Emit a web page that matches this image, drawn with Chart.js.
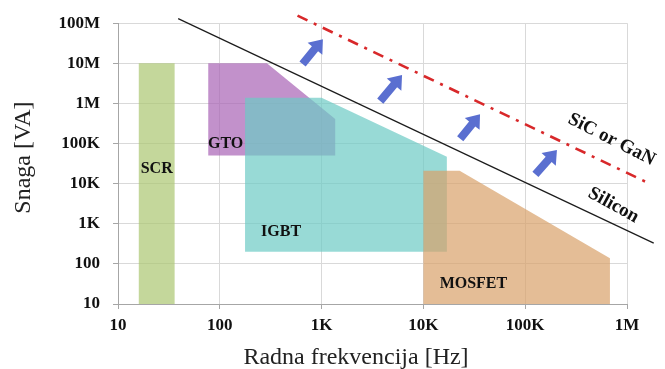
<!DOCTYPE html>
<html>
<head>
<meta charset="utf-8">
<script src="https://cdn.jsdelivr.net/npm/chart.js@4/dist/chart.umd.min.js"></script>
<style>
  html, body { margin: 0; padding: 0; background: #fff; }
  canvas { display: block; }
</style>
</head>
<body>
<canvas id="chart" width="665" height="369"></canvas>
<script>
// Axis ticks (log-log)
const xTickValues = [10, 100, 1e3, 1e4, 1e5, 1e6];
const xTickLabels = ['10', '100', '1K', '10K', '100K', '1M'];
const yTickValues = [10, 100, 1e3, 1e4, 1e5, 1e6, 1e7, 1e8];
const yTickLabels = ['10', '100', '1K', '10K', '100K', '1M', '10M', '100M'];

// Operating regions of power devices, vertices as [frequency Hz, power VA]
const scrRegion    = [[16, 10], [36, 10], [36, 1e7], [16, 1e7], [16, 10]];
const gtoRegion    = [[77, 5e4], [77, 1e7], [290, 1e7], [1360, 4.1e5], [1360, 5e4], [77, 5e4]];
const igbtRegion   = [[177, 200], [177, 1.38e6], [1000, 1.38e6], [17000, 4.7e4], [17000, 200], [177, 200]];
const mosfetRegion = [[1e4, 10], [1e4, 2.1e4], [22700, 2.1e4], [6.8e5, 138], [6.8e5, 10], [1e4, 10]];

// Material limit lines
const siliconLimit     = [[39, 1.3e8], [1.83e6, 330]];
const wideBandgapLimit = [[580, 1.54e8], [1.64e6, 1.02e4]];

// Arrows pushing the limit upwards
const arrowTails = [[650, 9.6e6], [3770, 1.14e6], [23000, 1.32e5], [126000, 1.7e4]];
const arrowTips  = [[1030, 4e7], [6170, 5.1e6], [36000, 5.4e5], [205000, 6.9e4]];

// Region names and where they sit
const deviceNames      = ['SCR', 'GTO', 'IGBT', 'MOSFET'];
const deviceLabelFreq  = [24, 114, 400, 31000];
const deviceLabelPower = [2.3e4, 1e5, 640, 32];

// Limit line names
const curveNames      = ['SiC or GaN', 'Silicon'];
const curveLabelFreq  = [7.05e5, 7.36e5];
const curveLabelPower = [1.25e5, 2.9e3];
const curveLabelAngle = [27, 29];

const SERIF = '"Liberation Serif", "Times New Roman", serif';

const toXY = pts => pts.map(([x, y]) => ({ x, y }));

function region(label, pts, color, order) {
  return {
    label, data: toXY(pts), fill: 'shape', backgroundColor: color,
    borderWidth: 0, pointRadius: 0, order
  };
}

function px(chart, p) {
  return { x: chart.scales.x.getPixelForValue(p[0]), y: chart.scales.y.getPixelForValue(p[1]) };
}

function blockArrow(ctx, a, b) {
  const dx = b.x - a.x, dy = b.y - a.y, len = Math.hypot(dx, dy);
  const headLen = 12.5, headHalf = 9.5, shaftHalf = 4;
  ctx.save();
  ctx.translate(a.x, a.y);
  ctx.rotate(Math.atan2(dy, dx));
  ctx.beginPath();
  ctx.moveTo(0, -shaftHalf);
  ctx.lineTo(len - headLen, -shaftHalf);
  ctx.lineTo(len - headLen, -headHalf);
  ctx.lineTo(len, 0);
  ctx.lineTo(len - headLen, headHalf);
  ctx.lineTo(len - headLen, shaftHalf);
  ctx.lineTo(0, shaftHalf);
  ctx.closePath();
  ctx.fillStyle = '#5a6fd0';
  ctx.fill();
  ctx.restore();
}

const annotations = {
  id: 'annotations',
  afterDatasetsDraw(chart) {
    const ctx = chart.ctx;
    arrowTails.forEach((t, i) => blockArrow(ctx, px(chart, t), px(chart, arrowTips[i])));

    ctx.save();
    ctx.fillStyle = '#111';
    ctx.textAlign = 'center';
    ctx.textBaseline = 'middle';
    ctx.font = 'bold 16px ' + SERIF;
    deviceNames.forEach((name, i) => {
      const p = px(chart, [deviceLabelFreq[i], deviceLabelPower[i]]);
      ctx.fillText(name, p.x, p.y);
    });
    ctx.font = 'bold 19px ' + SERIF;
    curveNames.forEach((name, i) => {
      const p = px(chart, [curveLabelFreq[i], curveLabelPower[i]]);
      ctx.save();
      ctx.translate(p.x, p.y);
      ctx.rotate(curveLabelAngle[i] * Math.PI / 180);
      ctx.fillText(name, 0, 0);
      ctx.restore();
    });

    // axis titles
    const area = chart.chartArea;
    ctx.fillStyle = '#222';
    ctx.font = '24px ' + SERIF;
    ctx.textBaseline = 'alphabetic';
    ctx.fillText('Radna frekvencija [Hz]', area.left + 238, 363.5);
    ctx.save();
    ctx.translate(30, (area.top + area.bottom) / 2 - 6);
    ctx.rotate(-Math.PI / 2);
    ctx.fillText('Snaga [VA]', 0, 0);
    ctx.restore();
    ctx.restore();
  }
};

const gridStyle = { color: '#d9d9d9', lineWidth: 1, tickColor: '#a6a6a6', tickLength: 5 };
const tickFont = { family: SERIF, size: 17, weight: 'bold' };

new Chart(document.getElementById('chart'), {
  type: 'line',
  data: {
    datasets: [
      region('GTO', gtoRegion, 'rgba(168,99,181,0.7)', 5),
      region('IGBT', igbtRegion, 'rgba(108,202,197,0.7)', 4),
      region('SCR', scrRegion, 'rgba(171,198,112,0.7)', 3),
      region('MOSFET', mosfetRegion, 'rgba(216,161,105,0.7)', 3),
      {
        label: 'Silicon', data: toXY(siliconLimit), borderColor: '#1c1c1c', borderWidth: 1.2,
        pointRadius: 0, fill: false, clip: false, order: 1
      },
      {
        label: 'SiC or GaN', data: toXY(wideBandgapLimit), borderColor: '#d8282a', borderWidth: 2.6,
        borderDash: [11, 7, 3, 7], pointRadius: 0, fill: false, clip: false, order: 1
      }
    ]
  },
  options: {
    responsive: false,
    animation: false,
    devicePixelRatio: 1,
    layout: { padding: { top: 17, right: 38, bottom: 0, left: 0 } },
    plugins: { legend: { display: false }, tooltip: { enabled: false } },
    scales: {
      x: {
        type: 'logarithmic', min: 10, max: 1e6,
        grid: gridStyle,
        border: { color: '#a6a6a6', width: 1 },
        afterBuildTicks: s => { s.ticks = xTickValues.map(v => ({ value: v })); },
        afterFit: s => { s.height = 65; },
        ticks: { font: tickFont, color: '#111', padding: 6, maxRotation: 0, autoSkip: false,
                 callback: (v, i) => xTickLabels[i] }
      },
      y: {
        type: 'logarithmic', min: 10, max: 1e8,
        grid: gridStyle,
        border: { color: '#a6a6a6', width: 1 },
        afterBuildTicks: s => { s.ticks = yTickValues.map(v => ({ value: v })); },
        afterFit: s => { s.width = 118; },
        ticks: { font: tickFont, color: '#111', padding: 13, autoSkip: false,
                 callback: (v, i) => yTickLabels[i] }
      }
    }
  },
  plugins: [annotations]
});
</script>
</body>
</html>
